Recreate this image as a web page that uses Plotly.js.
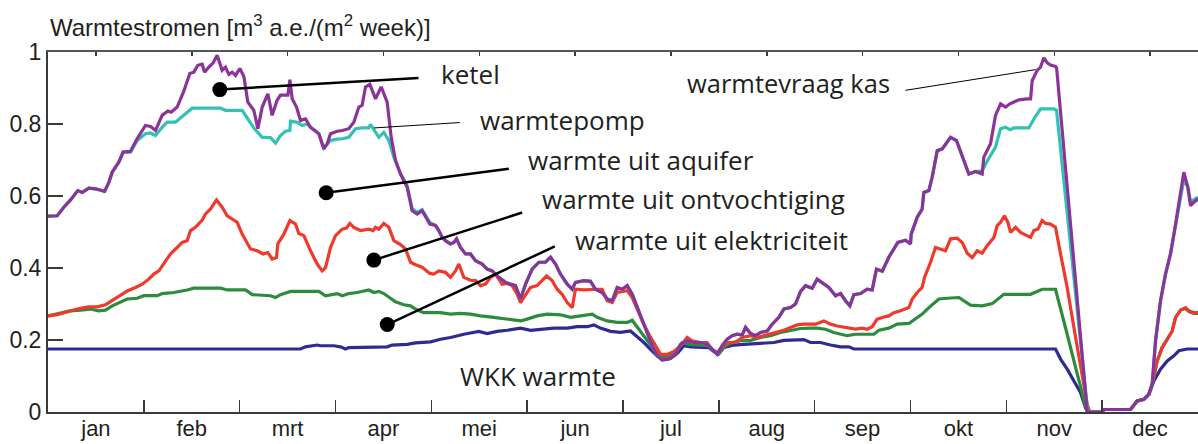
<!DOCTYPE html>
<html>
<head>
<meta charset="utf-8">
<script src="https://cdn.plot.ly/plotly-3.0.1.min.js"></script>
<style>html,body{margin:0;padding:0;background:#fff;}#chart{width:1198px;height:444px;}</style>
</head>
<body>
<div id="chart"></div>
<script>
// x positions are in months (0 = 1 jan, 12 = 31 dec)
const months = ['jan','feb','mrt','apr','mei','jun','jul','aug','sep','okt','nov','dec'];
const monthCenters = [0.5,1.5,2.5,3.5,4.5,5.5,6.5,7.5,8.5,9.5,10.5,11.5];
const monthBounds = [1,2,3,4,5,6,7,8,9,10,11];
const yTicks = [0,0.2,0.4,0.6,0.8,1];
const yTickText = ['0','0.2','0.4','0.6','0.8','1'];

// warmtevraag kas (ketel)
const kasX = [0,0.096,0.165,0.235,0.311,0.357,0.426,0.496,0.590,0.635,0.670,0.739,0.784,0.861,0.930,1.017,1.070,1.122,1.191,1.250,1.285,1.348,1.417,1.480,1.522,1.563,1.609,1.633,1.678,1.724,1.765,1.817,1.852,1.887,1.922,1.957,2.002,2.044,2.085,2.148,2.190,2.235,2.294,2.339,2.391,2.426,2.503,2.524,2.548,2.593,2.635,2.687,2.739,2.826,2.878,2.913,2.948,3.017,3.070,3.139,3.191,3.244,3.278,3.313,3.358,3.418,3.477,3.539,3.581,3.626,3.678,3.748,3.800,3.852,3.904,3.984,4.044,4.078,4.113,4.148,4.200,4.235,4.263,4.304,4.357,4.409,4.461,4.531,4.583,4.635,4.704,4.774,4.826,4.878,4.931,4.983,5.052,5.122,5.191,5.244,5.296,5.348,5.418,5.470,5.504,5.591,5.661,5.713,5.783,5.835,5.887,5.939,5.992,6.044,6.096,6.148,6.200,6.252,6.305,6.357,6.409,6.478,6.548,6.600,6.670,6.739,6.809,6.878,6.931,6.983,7.035,7.087,7.139,7.192,7.244,7.279,7.331,7.383,7.435,7.505,7.557,7.626,7.679,7.748,7.800,7.853,7.905,7.974,8.026,8.078,8.148,8.218,8.270,8.322,8.367,8.409,8.479,8.548,8.600,8.645,8.705,8.774,8.826,8.868,8.948,9.000,9.007,9.070,9.122,9.139,9.192,9.226,9.279,9.331,9.383,9.418,9.480,9.557,9.609,9.679,9.748,9.765,9.835,9.887,9.940,9.992,10.037,10.079,10.131,10.218,10.253,10.270,10.322,10.357,10.392,10.426,10.468,10.513,10.525,10.844,11.000,11.018,11.296,11.366,11.435,11.487,11.522,11.557,11.609,11.661,11.713,11.766,11.818,11.852,11.894,11.922,11.957,12.0];
const kasY = [0.544,0.545,0.569,0.589,0.615,0.610,0.622,0.620,0.613,0.638,0.666,0.694,0.722,0.724,0.759,0.796,0.793,0.782,0.824,0.836,0.833,0.847,0.891,0.940,0.944,0.963,0.966,0.944,0.958,0.970,0.991,0.949,0.958,0.938,0.944,0.935,0.954,0.932,0.861,0.838,0.787,0.847,0.884,0.824,0.866,0.880,0.880,0.923,0.870,0.847,0.810,0.814,0.791,0.773,0.731,0.745,0.773,0.780,0.782,0.787,0.805,0.847,0.852,0.903,0.910,0.870,0.903,0.861,0.763,0.699,0.661,0.624,0.559,0.550,0.559,0.522,0.518,0.504,0.485,0.476,0.467,0.471,0.481,0.457,0.439,0.439,0.420,0.411,0.397,0.392,0.374,0.360,0.355,0.351,0.314,0.355,0.397,0.416,0.416,0.430,0.411,0.383,0.355,0.341,0.360,0.365,0.363,0.341,0.332,0.314,0.309,0.346,0.341,0.351,0.327,0.290,0.253,0.216,0.184,0.156,0.144,0.147,0.160,0.188,0.198,0.193,0.193,0.188,0.174,0.160,0.184,0.202,0.212,0.216,0.214,0.235,0.218,0.212,0.221,0.225,0.244,0.263,0.286,0.290,0.300,0.335,0.351,0.344,0.369,0.360,0.346,0.323,0.329,0.309,0.295,0.326,0.329,0.341,0.339,0.397,0.391,0.430,0.453,0.471,0.477,0.467,0.494,0.541,0.564,0.610,0.615,0.652,0.726,0.731,0.750,0.763,0.754,0.699,0.661,0.668,0.661,0.708,0.745,0.824,0.856,0.847,0.856,0.861,0.867,0.870,0.870,0.921,0.949,0.958,0.984,0.970,0.963,0.960,0.955,0,0,0.007,0.007,0.031,0.035,0.049,0.077,0.198,0.309,0.383,0.439,0.522,0.615,0.666,0.624,0.573,0.583,0.592];

// warmtepomp
const pompX = [0,0.096,0.165,0.235,0.311,0.357,0.426,0.496,0.590,0.635,0.670,0.739,0.784,0.861,0.930,1.017,1.070,1.122,1.191,1.244,1.330,1.417,1.504,1.800,1.852,2.026,2.096,2.148,2.235,2.322,2.374,2.426,2.478,2.524,2.531,2.600,2.652,2.704,2.739,2.826,2.878,2.948,3.017,3.070,3.139,3.209,3.278,3.348,3.365,3.418,3.452,3.504,3.557,3.609,3.678,3.748,3.800,3.852,3.904,3.984,4.044,4.078,4.113,4.148,4.200,4.235,4.263,4.304,4.357,4.409,4.461,4.531,4.583,4.635,4.704,4.774,4.826,4.878,4.931,4.983,5.052,5.122,5.191,5.244,5.296,5.348,5.418,5.470,5.504,5.591,5.661,5.713,5.783,5.835,5.887,5.939,5.992,6.044,6.096,6.148,6.200,6.252,6.305,6.357,6.409,6.478,6.548,6.600,6.670,6.739,6.809,6.878,6.931,6.983,7.035,7.087,7.139,7.192,7.244,7.279,7.331,7.383,7.435,7.505,7.557,7.626,7.679,7.748,7.800,7.853,7.905,7.974,8.026,8.078,8.148,8.218,8.270,8.322,8.367,8.409,8.479,8.548,8.600,8.645,8.705,8.774,8.826,8.868,8.948,9.000,9.007,9.070,9.122,9.139,9.192,9.226,9.279,9.331,9.383,9.418,9.480,9.557,9.609,9.679,9.748,9.783,9.835,9.887,9.940,9.992,10.037,10.079,10.235,10.287,10.357,10.496,10.524,10.850,11.000,11.018,11.296,11.366,11.435,11.487,11.522,11.557,11.609,11.661,11.713,11.766,11.818,11.852,11.894,11.922,11.957,12.0];
const pompY = [0.544,0.545,0.569,0.589,0.615,0.610,0.622,0.620,0.613,0.638,0.666,0.694,0.722,0.722,0.754,0.773,0.775,0.768,0.791,0.805,0.805,0.824,0.844,0.844,0.838,0.838,0.810,0.789,0.763,0.762,0.747,0.768,0.780,0.782,0.808,0.805,0.796,0.800,0.791,0.773,0.733,0.754,0.758,0.759,0.763,0.787,0.789,0.789,0.799,0.777,0.763,0.777,0.754,0.708,0.663,0.628,0.565,0.555,0.562,0.527,0.518,0.504,0.485,0.476,0.467,0.471,0.481,0.457,0.439,0.439,0.420,0.411,0.397,0.392,0.374,0.360,0.355,0.351,0.314,0.355,0.397,0.416,0.416,0.430,0.411,0.383,0.355,0.341,0.360,0.365,0.363,0.341,0.332,0.314,0.309,0.346,0.341,0.351,0.327,0.290,0.253,0.216,0.184,0.156,0.144,0.147,0.160,0.188,0.198,0.193,0.193,0.188,0.174,0.160,0.184,0.202,0.212,0.216,0.214,0.235,0.218,0.212,0.221,0.225,0.244,0.263,0.286,0.290,0.300,0.335,0.351,0.344,0.369,0.360,0.346,0.323,0.329,0.309,0.295,0.326,0.329,0.341,0.339,0.397,0.391,0.430,0.453,0.471,0.477,0.467,0.494,0.541,0.564,0.610,0.615,0.652,0.726,0.731,0.750,0.763,0.754,0.699,0.661,0.668,0.670,0.689,0.712,0.736,0.787,0.791,0.784,0.789,0.789,0.814,0.842,0.842,0.838,0,0,0.007,0.007,0.031,0.035,0.049,0.077,0.198,0.309,0.383,0.439,0.522,0.600,0.645,0.625,0.585,0.590,0.597];

// warmte uit aquifer
const aquiferX = [0,0.096,0.165,0.252,0.339,0.426,0.513,0.600,0.670,0.757,0.833,0.913,0.983,1.052,1.104,1.157,1.209,1.278,1.348,1.400,1.452,1.487,1.539,1.609,1.644,1.696,1.758,1.817,1.870,1.922,1.974,2.026,2.113,2.183,2.245,2.294,2.339,2.384,2.398,2.461,2.524,2.583,2.617,2.670,2.739,2.809,2.861,2.896,2.948,3.000,3.070,3.115,3.150,3.191,3.261,3.348,3.393,3.418,3.452,3.504,3.557,3.609,3.678,3.731,3.783,3.835,3.904,3.984,4.026,4.078,4.148,4.200,4.252,4.287,4.339,4.409,4.461,4.513,4.565,4.618,4.670,4.739,4.791,4.844,4.896,4.931,4.983,5.035,5.104,5.157,5.202,5.261,5.313,5.365,5.418,5.470,5.504,5.591,5.661,5.731,5.783,5.835,5.887,5.939,6.044,6.096,6.148,6.200,6.270,6.339,6.392,6.461,6.531,6.600,6.670,6.722,6.809,6.878,6.931,6.983,7.035,7.105,7.174,7.244,7.331,7.400,7.470,7.539,7.609,7.679,7.748,7.818,7.887,7.957,8.009,8.096,8.165,8.235,8.305,8.374,8.426,8.496,8.548,8.600,8.652,8.722,8.774,8.826,8.896,8.983,9.018,9.070,9.122,9.146,9.174,9.209,9.261,9.313,9.366,9.418,9.487,9.539,9.592,9.644,9.696,9.748,9.800,9.870,9.905,9.940,9.981,10.016,10.044,10.096,10.148,10.183,10.253,10.287,10.329,10.374,10.409,10.461,10.513,10.566,10.635,10.705,10.774,10.844,10.870,11.000,11.018,11.296,11.366,11.435,11.487,11.522,11.574,11.626,11.679,11.731,11.766,11.818,11.870,11.905,11.957,12.0];
const aquiferY = [0.267,0.270,0.276,0.283,0.288,0.292,0.292,0.298,0.309,0.323,0.337,0.346,0.355,0.369,0.383,0.392,0.411,0.439,0.457,0.471,0.476,0.504,0.513,0.533,0.550,0.564,0.589,0.569,0.545,0.536,0.527,0.494,0.453,0.448,0.439,0.443,0.425,0.429,0.467,0.494,0.532,0.522,0.496,0.490,0.448,0.411,0.392,0.401,0.457,0.490,0.508,0.511,0.524,0.513,0.504,0.508,0.504,0.513,0.508,0.524,0.513,0.476,0.465,0.453,0.416,0.409,0.402,0.385,0.383,0.392,0.388,0.374,0.392,0.411,0.374,0.366,0.365,0.351,0.355,0.374,0.383,0.355,0.357,0.351,0.327,0.304,0.327,0.346,0.351,0.365,0.378,0.365,0.341,0.327,0.304,0.290,0.341,0.339,0.341,0.341,0.341,0.309,0.304,0.332,0.337,0.318,0.286,0.253,0.216,0.184,0.160,0.160,0.168,0.184,0.207,0.198,0.193,0.193,0.174,0.165,0.181,0.193,0.193,0.207,0.212,0.207,0.212,0.216,0.221,0.227,0.235,0.242,0.244,0.244,0.244,0.253,0.244,0.239,0.235,0.233,0.230,0.233,0.230,0.237,0.258,0.264,0.267,0.276,0.281,0.290,0.314,0.332,0.346,0.374,0.392,0.416,0.457,0.453,0.448,0.481,0.483,0.471,0.441,0.429,0.448,0.441,0.462,0.485,0.518,0.527,0.545,0.527,0.499,0.513,0.499,0.494,0.485,0.504,0.508,0.532,0.524,0.522,0.513,0.439,0.346,0.235,0.123,0.021,0,0,0.007,0.007,0.031,0.035,0.049,0.077,0.142,0.179,0.202,0.225,0.263,0.283,0.290,0.281,0.276,0.276];

// warmte uit ontvochtiging
const ontvX = [0,0.130,0.235,0.339,0.443,0.530,0.600,0.670,0.757,0.826,0.930,1.000,1.139,1.191,1.313,1.383,1.452,1.522,1.800,1.870,2.061,2.131,2.322,2.374,2.426,2.531,2.826,2.896,2.965,3.017,3.070,3.139,3.226,3.348,3.400,3.452,3.504,3.557,3.626,3.713,3.783,3.852,3.922,3.984,4.096,4.200,4.304,4.409,4.513,4.652,4.791,4.931,5.000,5.104,5.209,5.348,5.452,5.557,5.679,5.731,5.835,5.939,6.044,6.096,6.165,6.252,6.322,6.392,6.478,6.548,6.618,6.687,6.809,6.896,6.948,7.000,7.052,7.139,7.226,7.331,7.435,7.539,7.644,7.748,7.853,7.957,8.026,8.113,8.200,8.339,8.426,8.618,8.670,8.774,8.861,8.983,9.052,9.122,9.192,9.296,9.383,9.505,9.626,9.748,9.853,9.974,10.253,10.374,10.513,10.566,10.635,10.705,10.774,10.826,10.861,11.000,11.018,11.296,11.366,11.435,11.487,11.522,11.574,11.626,11.679,11.731,11.766,11.818,11.870,11.905,11.957,12.0];
const ontvY = [0.267,0.274,0.281,0.283,0.286,0.281,0.283,0.295,0.306,0.314,0.316,0.323,0.323,0.329,0.332,0.335,0.339,0.344,0.344,0.339,0.339,0.326,0.323,0.318,0.326,0.335,0.335,0.323,0.326,0.329,0.323,0.329,0.332,0.339,0.332,0.335,0.329,0.318,0.306,0.298,0.295,0.283,0.276,0.276,0.276,0.272,0.274,0.272,0.267,0.263,0.258,0.253,0.258,0.267,0.272,0.270,0.263,0.267,0.272,0.263,0.253,0.249,0.249,0.255,0.230,0.198,0.174,0.156,0.153,0.165,0.193,0.188,0.186,0.184,0.170,0.162,0.181,0.193,0.198,0.199,0.207,0.212,0.221,0.227,0.232,0.233,0.233,0.230,0.221,0.212,0.216,0.216,0.227,0.233,0.244,0.246,0.258,0.272,0.290,0.314,0.316,0.318,0.297,0.295,0.301,0.327,0.327,0.341,0.341,0.290,0.216,0.142,0.068,0.017,0,0,0.007,0.007,0.031,0.035,0.049,0.077,0.142,0.179,0.202,0.225,0.263,0.283,0.288,0.279,0.274,0.274];

// warmte uit elektriciteit (WKK warmte)
const wkkX = [0,2.635,2.687,2.809,2.843,2.983,3.052,3.104,3.139,3.539,3.591,3.748,3.835,3.887,3.991,4.096,4.200,4.339,4.409,4.496,4.583,4.687,4.791,4.931,5.035,5.139,5.278,5.418,5.522,5.626,5.696,5.765,5.870,5.974,6.078,6.148,6.218,6.287,6.357,6.426,6.496,6.565,6.635,6.705,6.809,6.896,6.948,7.000,7.052,7.157,7.261,7.366,7.470,7.574,7.679,7.783,7.887,7.957,8.061,8.165,8.270,8.357,8.409,10.513,10.566,10.635,10.705,10.774,10.826,10.851,11.000,11.018,11.296,11.366,11.435,11.487,11.540,11.609,11.679,11.748,11.800,11.887,12.0];
const wkkY = [0.175,0.175,0.181,0.186,0.184,0.184,0.181,0.175,0.179,0.181,0.186,0.188,0.192,0.193,0.195,0.202,0.207,0.216,0.219,0.224,0.218,0.224,0.227,0.233,0.227,0.230,0.233,0.233,0.237,0.237,0.242,0.233,0.224,0.221,0.225,0.209,0.193,0.174,0.156,0.147,0.149,0.162,0.184,0.181,0.181,0.179,0.168,0.162,0.179,0.186,0.188,0.190,0.193,0.193,0.199,0.199,0.201,0.193,0.193,0.186,0.181,0.181,0.175,0.175,0.147,0.119,0.088,0.054,0.012,0,0,0.007,0.007,0.031,0.035,0.049,0.086,0.119,0.142,0.156,0.170,0.175,0.175];

const C = {kas:'#8a3398', pomp:'#33c1b6', aquifer:'#ef3a2b', ontv:'#2e8b3e', wkk:'#2f2c8f'};

function line(x, y, color, name){
  return {x:x, y:y, type:'scatter', mode:'lines', name:name,
          line:{color:color, width:3.2, shape:'linear'}, hoverinfo:'skip'};
}
const traces = [
  line(wkkX, wkkY, C.wkk, 'warmte uit elektriciteit'),
  line(ontvX, ontvY, C.ontv, 'warmte uit ontvochtiging'),
  line(aquiferX, aquiferY, C.aquifer, 'warmte uit aquifer'),
  line(pompX, pompY, C.pomp, 'warmtepomp'),
  line(kasX, kasY, C.kas, 'warmtevraag kas'),
  // empty trace that makes the top axis (month-centre ticks) exist
  {x:[], y:[], type:'scatter', mode:'lines', xaxis:'x2', yaxis:'y', hoverinfo:'skip', showlegend:false}
];

const labelFont = {family:'Open Sans, Noto Sans, sans-serif', size:26, color:'#231f20'};
function label(text, x, y){
  return {text:text, x:x, y:y, xref:'x', yref:'y', xanchor:'left', yanchor:'middle',
          showarrow:false, font:labelFont};
}
function pointer(x0, y0, x1, y1, w){
  return {type:'line', xref:'x', yref:'y', x0:x0, y0:y0, x1:x1, y1:y1,
          line:{color:'#000', width:w}};
}
function dot(x, y){
  return {type:'circle', xref:'x', yref:'y', xsizemode:'pixel', ysizemode:'pixel',
          xanchor:x, yanchor:y, x0:-7.5, x1:7.5, y0:-7.5, y1:7.5,
          fillcolor:'#000', line:{color:'#000', width:0}};
}

const layout = {
  width:1198, height:444,
  margin:{l:48, r:0, t:52, b:32, pad:0},
  paper_bgcolor:'#fff', plot_bgcolor:'#fff',
  showlegend:false,
  font:{family:'Liberation Sans, Arial, sans-serif', size:23, color:'#231f20'},
  xaxis:{range:[0,12], tickmode:'array', tickvals:monthCenters, ticktext:months,
         ticks:'inside', ticklen:0, tickcolor:'rgba(0,0,0,0)', ticklabelstandoff:-4,
         tickfont:{family:'Liberation Sans, Arial, sans-serif', size:22, color:'#231f20'},
         showline:true, linecolor:'#3a3a3a', linewidth:2, mirror:false,
         zeroline:false, showgrid:false, fixedrange:true,
         minor:{tickmode:'array', tickvals:monthBounds, ticks:'inside', ticklen:12, tickcolor:'#3a3a3a', tickwidth:1.5, showgrid:false}},
  xaxis2:{overlaying:'x', side:'top', anchor:'y', range:[0,12], tickmode:'array', tickvals:monthCenters,
          ticks:'inside', ticklen:4, tickcolor:'#3a3a3a', tickwidth:1.5, showticklabels:false,
          showline:true, linecolor:'#555', linewidth:2, zeroline:false, showgrid:false, fixedrange:true},
  yaxis:{range:[0,1], tickmode:'array', tickvals:yTicks, ticktext:yTickText,
         ticks:'inside', ticklen:15, tickcolor:'#3a3a3a', tickwidth:1.5,
         showline:true, linecolor:'#3a3a3a', linewidth:2,
         zeroline:false, showgrid:false, fixedrange:true},
  shapes:[
    pointer(1.793,0.8955,3.866,0.928,2.5), dot(1.793,0.8955),
    pointer(3.400,0.789,4.297,0.804,1),
    pointer(2.903,0.609,4.808,0.676,2.5), dot(2.903,0.609),
    pointer(3.400,0.422,4.948,0.554,2.5), dot(3.400,0.422),
    pointer(3.540,0.243,5.288,0.460,2.5), dot(3.540,0.243),
    pointer(8.948,0.8936,10.305,0.951,1)
  ],
  annotations:[
    {text:'Warmtestromen [m<sup>3</sup> a.e./(m<sup>2</sup> week)]', xref:'paper', yref:'paper',
     x:0, y:1.072, xanchor:'left', yanchor:'middle', showarrow:false,
     font:{family:'Liberation Sans, Arial, sans-serif', size:24, color:'#231f20'}},
    label('ketel', 4.085, 0.938),
    label('warmtepomp', 4.49, 0.810),
    label('warmte uit aquifer', 4.99, 0.699),
    label('warmte uit ontvochtiging', 5.13, 0.591),
    label('warmte uit elektriciteit', 5.48, 0.477),
    {text:'warmtevraag kas', x:6.65, y:0.913, xref:'x', yref:'y', xanchor:'left', yanchor:'middle',
     showarrow:false, font:{family:'Open Sans, Noto Sans, sans-serif', size:25.5, color:'#231f20'}},
    label('WKK warmte', 4.28, 0.099)
  ]
};

Plotly.newPlot('chart', traces, layout, {displayModeBar:false, staticPlot:true});
</script>
</body>
</html>
